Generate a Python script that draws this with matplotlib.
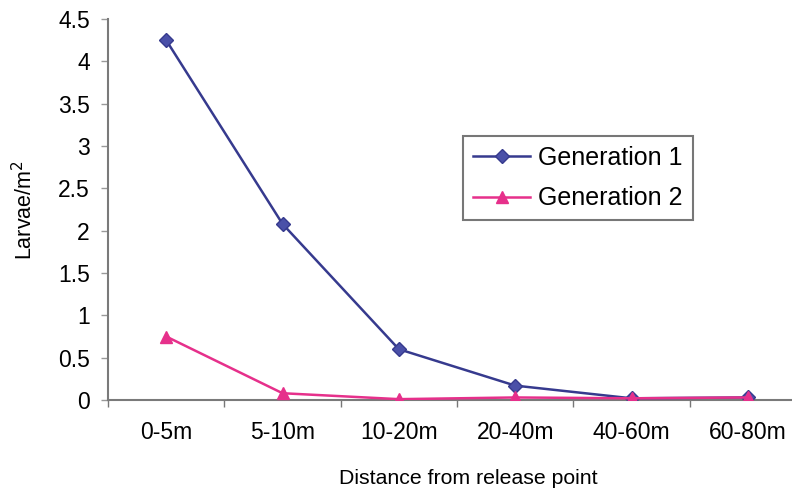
import matplotlib
matplotlib.use("Agg")
import matplotlib.pyplot as plt

plt.rcParams['font.family'] = ['Liberation Sans', 'DejaVu Sans']

categories = ["0-5m", "5-10m", "10-20m", "20-40m", "40-60m", "60-80m"]
generation1 = [4.25, 2.08, 0.60, 0.17, 0.02, 0.03]
generation2 = [0.75, 0.08, 0.01, 0.03, 0.02, 0.03]
y_ticks = [0, 0.5, 1, 1.5, 2, 2.5, 3, 3.5, 4, 4.5]
y_tick_labels = ["0", "0.5", "1", "1.5", "2", "2.5", "3", "3.5", "4", "4.5"]

W, H = 792, 493
fig = plt.figure(figsize=(W / 100, H / 100), dpi=100)
ax = fig.add_axes([108 / W, 93 / H, 698 / W, 381 / H])

x = list(range(len(categories)))
navy = "#363a8e"
pink = "#e6308b"

ax.plot(x, generation1, color=navy, lw=1.8, marker="D", markersize=7.5,
        markerfacecolor="#4a50a8", markeredgecolor=navy, label="Generation 1",
        zorder=3)
ax.plot(x, generation2, color=pink, lw=1.8, marker="^", markersize=9,
        markerfacecolor=pink, markeredgecolor=pink, label="Generation 2",
        zorder=3)

ax.set_xlim(-0.5, len(categories) - 0.5)
ax.set_ylim(0, 4.5)

ax.set_yticks(y_ticks)
ax.set_yticklabels(y_tick_labels)
ax.set_xticks(x)
ax.set_xticklabels(categories)
ax.set_xticks([i + 0.5 for i in range(-1, len(categories))], minor=True)

ax.tick_params(axis="y", which="major", direction="out", length=5, width=1,
               color="#999999", labelsize=16.5, pad=8)
ax.tick_params(axis="x", which="major", length=0, labelsize=16.5, pad=15)
ax.tick_params(axis="x", which="minor", direction="out", length=5, width=1,
               color="#777777")

for side in ("top", "right"):
    ax.spines[side].set_visible(False)
for side in ("left", "bottom"):
    ax.spines[side].set_color("#7a7a7a")
    ax.spines[side].set_linewidth(1.5)

fig.text(25 / W, 1 - 210 / H, "Larvae/m$^2$", rotation=90, ha="center",
         va="center", fontsize=15.5)
fig.text(468 / W, 1 - 478 / H, "Distance from release point", ha="center",
         va="center", fontsize=15.3)

leg = ax.legend(loc="upper left", bbox_to_anchor=(463 / W, 1 - 136 / H),
                bbox_transform=fig.transFigure, borderaxespad=0,
                fontsize=18, frameon=True, fancybox=False, handlelength=2.3,
                handletextpad=0.3, labelspacing=0.65, borderpad=0.4)
leg.get_frame().set_edgecolor("#555555")
leg.get_frame().set_linewidth(1.5)

fig.savefig("out.png", dpi=100)
